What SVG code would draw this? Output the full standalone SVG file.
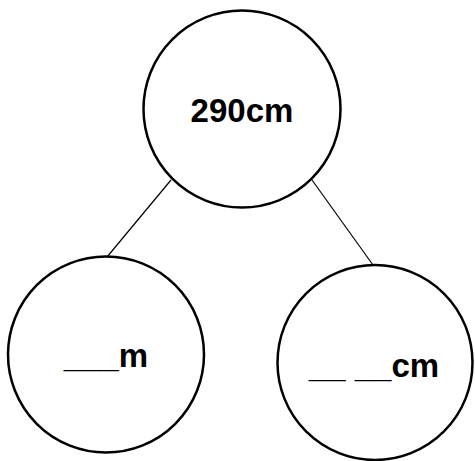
<svg xmlns="http://www.w3.org/2000/svg" width="475" height="461" viewBox="0 0 475 461">
<style>
.node{fill:#fff;stroke:#000;stroke-width:2.5}
.lbl{font-family:"Liberation Sans",Arial,sans-serif;font-weight:bold;font-size:33px;text-anchor:middle;fill:#000}
.edge{stroke:#000;stroke-width:1.2;fill:none}
</style>
<rect width="475" height="461" fill="#fff"/>
<g id="connectors">
<line class="edge" x1="171" y1="180" x2="107" y2="257"/>
<line class="edge" x1="312" y1="180" x2="373" y2="265"/>
</g>
<g id="top">
<circle class="node" cx="242" cy="109" r="98.5"/>
<text class="lbl" x="242" y="122">290cm</text>
</g>
<g id="left">
<circle class="node" cx="106" cy="354.5" r="98"/>
<text class="lbl" x="106" y="367">___m</text>
</g>
<g id="right">
<circle class="node" cx="375" cy="362.5" r="97.5"/>
<text class="lbl" x="374" y="377">__ __cm</text>
</g>
</svg>
